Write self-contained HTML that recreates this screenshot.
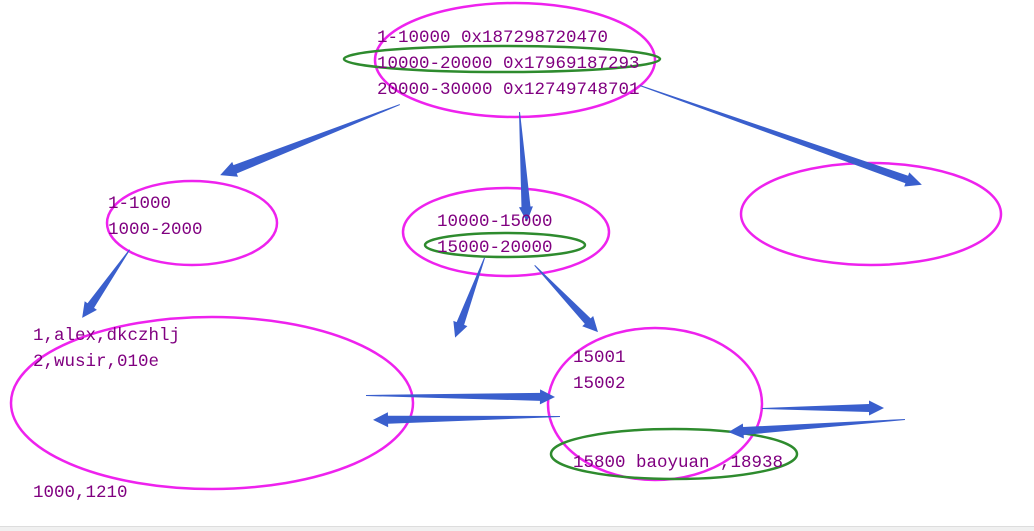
<!DOCTYPE html>
<html><head><meta charset="utf-8"><style>
html,body{margin:0;padding:0;background:#fff;width:1034px;height:531px;overflow:hidden}
svg text{font-family:"Liberation Mono","Noto Sans CJK SC",monospace;font-size:17.5px;fill:#800080}
</style></head><body>
<svg width="1034" height="531" xmlns="http://www.w3.org/2000/svg">
<rect x="0" y="526" width="1034" height="5" fill="#f0f0f0"/>
<line x1="0" y1="526.5" x2="1034" y2="526.5" stroke="#ddd"/>
<g fill="none" stroke-width="2.5">
<ellipse cx="515" cy="60" rx="140" ry="57" stroke="#ee22ee"/>
<ellipse cx="502" cy="59" rx="158" ry="13" stroke="#2e8b2e"/>
<ellipse cx="192" cy="223" rx="85" ry="42" stroke="#ee22ee"/>
<ellipse cx="506" cy="232" rx="103" ry="44" stroke="#ee22ee"/>
<ellipse cx="505" cy="245" rx="80" ry="12" stroke="#2e8b2e"/>
<ellipse cx="871" cy="214" rx="130" ry="51" stroke="#ee22ee"/>
<ellipse cx="212" cy="403" rx="201" ry="86" stroke="#ee22ee"/>
<ellipse cx="655" cy="404" rx="107" ry="76" stroke="#ee22ee"/>
<ellipse cx="674" cy="454" rx="123" ry="25" stroke="#2e8b2e"/>
</g>
<g fill="#3a5fcd">
<polygon transform="translate(400,105) rotate(158.7)" points="0,0 177,-4.5 177,-8 193,0 177,8 177,4.5 0,1"/>
<polygon transform="translate(520,112) rotate(86.4)" points="0,0 95,-4.5 95,-7 110,0 95,7 95,4.5 0,1"/>
<polygon transform="translate(640,85) rotate(19.5)" points="0,0 283,-4 283,-7.5 299,0 283,7.5 283,4 0,1"/>
<polygon transform="translate(130,250) rotate(125.2)" points="0,0 68,-4 68,-7.5 83,0 68,7.5 68,4 0,1"/>
<polygon transform="translate(485,258) rotate(110.6)" points="0,0 70,-4 70,-7.5 85,0 70,7.5 70,4 0,1"/>
<polygon transform="translate(535,265) rotate(46.8)" points="0,0 77,-4 77,-7.5 92,0 77,7.5 77,4 0,1"/>
<polygon transform="translate(366,395) rotate(0.6)" points="0,0 174,-4 174,-7.5 189,0 174,7.5 174,4 0,1"/>
<polygon transform="translate(560,417) rotate(179.1)" points="0,0 172,-4 172,-7.5 187,0 172,7.5 172,4 0,1"/>
<polygon transform="translate(762,408) rotate(0)" points="0,0 107,-4 107,-7.5 122,0 107,7.5 107,4 0,1"/>
<polygon transform="translate(905,420) rotate(176.1)" points="0,0 162,-4 162,-7.5 177,0 162,7.5 162,4 0,1"/>
</g>
<text x="377" y="42">1-10000 0x187298720470</text>
<text x="377" y="68">10000-20000 0x17969187293</text>
<text x="377" y="94">20000-30000 0x12749748701</text>
<text x="108" y="208">1-1000</text>
<text x="108" y="234">1000-2000</text>
<text x="437" y="226">10000-15000</text>
<text x="437" y="252">15000-20000</text>
<text x="33" y="340">1,alex,dkczhlj</text>
<text x="33" y="366">2,wusir,010e</text>
<text x="573" y="362">15001</text>
<text x="573" y="388">15002</text>
<text x="573" y="467">15800 baoyuan ,18938</text>
<text x="33" y="497">1000,1210</text>
</svg>
</body></html>
